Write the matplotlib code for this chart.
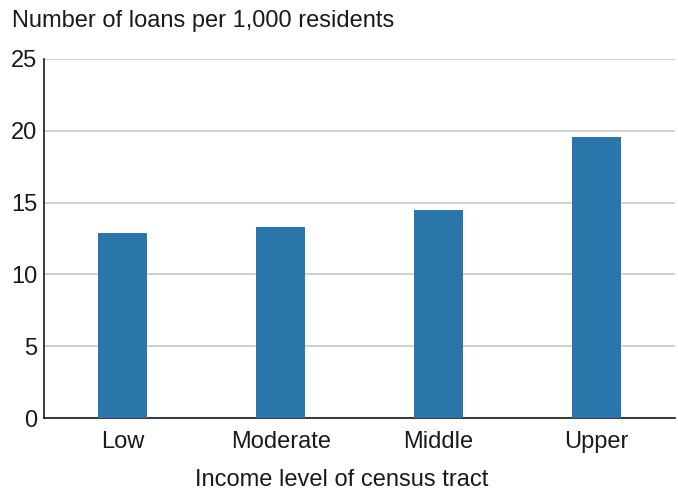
import matplotlib
matplotlib.use("Agg")
from matplotlib import pyplot as plt

plt.rcParams['font.family'] = ['Liberation Sans', 'DejaVu Sans']

categories = ["Low", "Moderate", "Middle", "Upper"]
loans_per_1000 = [12.9, 13.3, 14.5, 19.6]
y_ticks = [0, 5, 10, 15, 20, 25]

fig = plt.figure(figsize=(6.78, 4.90), dpi=100)
ax = fig.add_axes([0.0649, 0.1469, 0.9307, 0.7327])

ax.bar(range(len(categories)), loans_per_1000, width=0.31, color="#2a75a9", zorder=3)

ax.set_xlim(-0.5, len(categories) - 0.5)
ax.set_ylim(0, 25)
ax.set_yticks(y_ticks)
ax.set_xticks(range(len(categories)))
ax.set_xticklabels(categories)
ax.tick_params(axis="both", length=0, labelsize=17, colors="#1a1a1a")
ax.tick_params(axis="y", pad=5)
ax.tick_params(axis="x", pad=9)
ax.yaxis.grid(True, color="#c8c8c8", linewidth=1.2, zorder=0)

for side in ["top", "right"]:
    ax.spines[side].set_visible(False)
for side in ["left", "bottom"]:
    ax.spines[side].set_color("#1a1a1a")
    ax.spines[side].set_linewidth(1.2)

# x title is centred on the figure, not on the axes
fig.text(0.5037, 0.008, "Income level of census tract", fontsize=17,
         color="#1a1a1a", ha="center", va="baseline")
fig.text(0.018, 0.958, "Number of loans per 1,000 residents", fontsize=17,
         color="#1a1a1a", ha="left", va="center")

fig.savefig("out.png", dpi=100)
